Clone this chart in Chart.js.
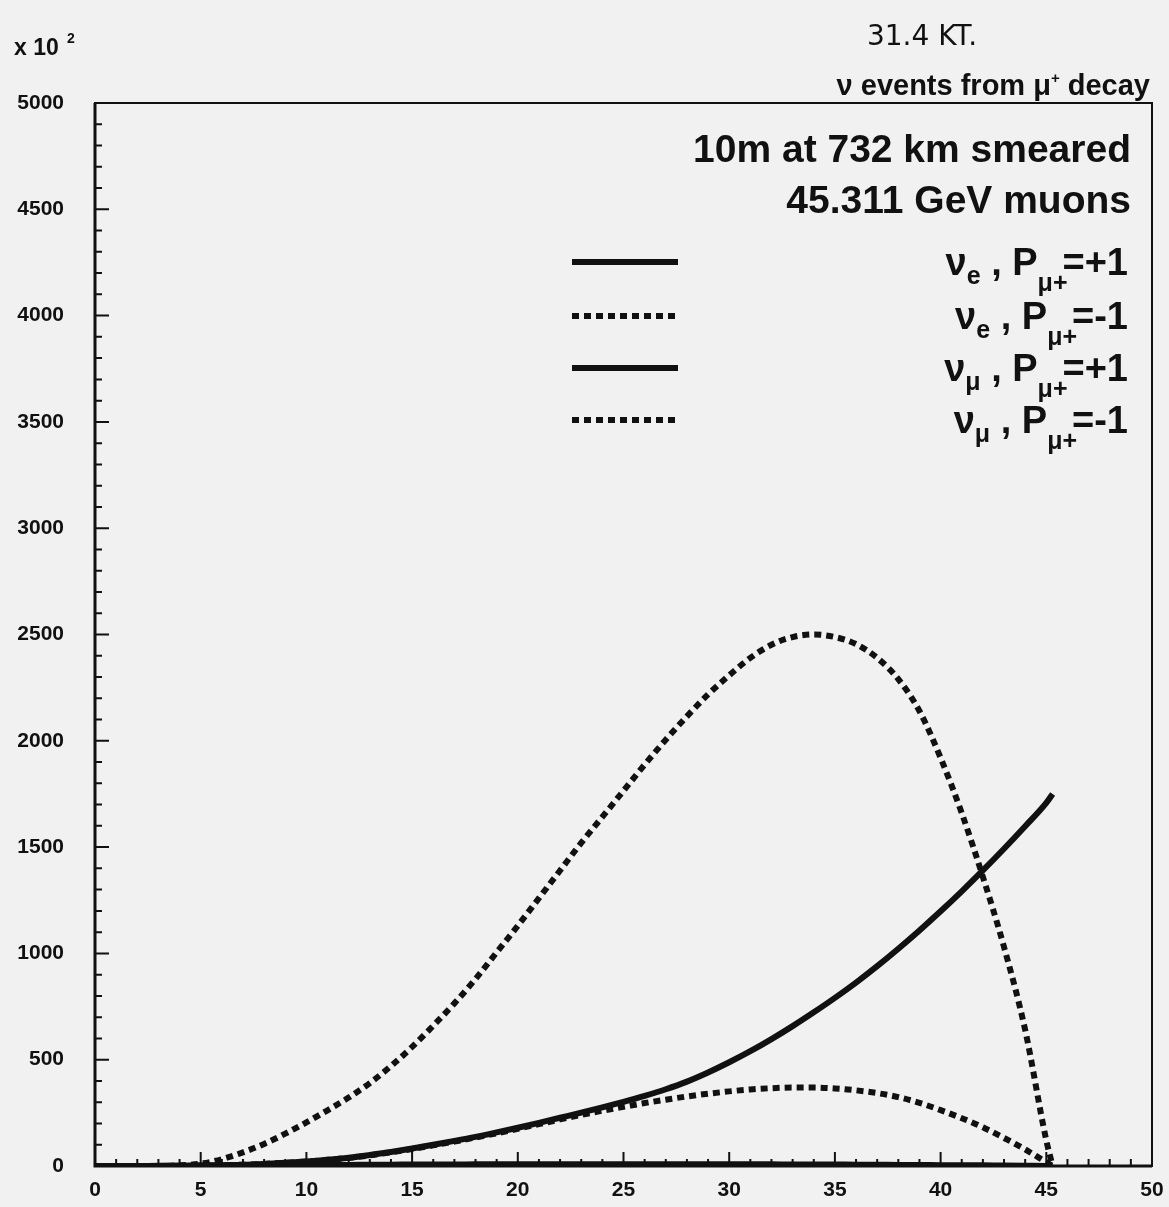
<!DOCTYPE html>
<html>
<head>
<meta charset="utf-8">
<script src="https://cdn.jsdelivr.net/npm/chart.js@4.4.0/dist/chart.umd.min.js"></script>
<style>
body { margin: 0; background: #f1f1f1; }
#wrap { width: 1169px; height: 1207px; }
</style>
</head>
<body>
<div id="wrap"><canvas id="mychart" width="1169" height="1207"></canvas></div>
<script>
// neutrino energy (GeV)
const energies = [0, 1, 2, 3, 4, 5, 6, 7, 8, 9, 10, 11, 12, 13, 14, 15, 16, 17, 18, 19,
    20, 21, 22, 23, 24, 25, 26, 27, 28, 29, 30, 31, 32, 33, 34, 35, 36, 37, 38, 39,
    40, 41, 42, 43, 44, 45, 45.3];

// events (x 10^2)
const nuePlus = [0, 0, 0, 1, 1, 2, 2, 3, 3, 4, 4, 5, 5, 6, 6, 7, 7, 7, 8, 8,
    8, 8, 8, 8, 8, 8, 8, 8, 8, 8, 8, 8, 8, 7, 7, 7, 6, 6, 5, 5,
    4, 4, 3, 2, 1, 0, 0];
const nueMinus = [0, 0, 0, 0, 3, 11, 32, 64, 104, 152, 205, 262, 322, 390, 470, 560, 660, 765, 880, 1005,
    1130, 1260, 1390, 1520, 1642, 1765, 1888, 2005, 2115, 2218, 2308, 2390, 2452, 2488, 2500, 2488, 2455, 2390, 2290, 2140,
    1920, 1660, 1360, 1030, 640, 120, 0];
const numuPlus = [0, 0, 0, 0, 1, 2, 4, 6, 10, 15, 21, 29, 39, 52, 66, 82, 100, 118, 137, 158,
    180, 203, 227, 251, 276, 302, 330, 361, 397, 440, 488, 540, 597, 658, 723, 791, 863, 940, 1022, 1108,
    1198, 1292, 1390, 1492, 1598, 1708, 1750];
const numuMinus = [0, 0, 0, 0, 1, 2, 4, 6, 10, 15, 21, 29, 38, 50, 64, 80, 97, 115, 134, 154,
    175, 197, 219, 240, 260, 278, 296, 312, 327, 340, 351, 360, 366, 369, 369, 365, 356, 343, 324, 297,
    263, 225, 182, 132, 78, 18, 0];

const xTicks = [0, 5, 10, 15, 20, 25, 30, 35, 40, 45, 50];
const yTicks = [0, 500, 1000, 1500, 2000, 2500, 3000, 3500, 4000, 4500, 5000];

const ink = '#111111';
const dash = [7, 5];

const ctx = document.getElementById('mychart');

function pts(arr) {
    return energies.map((e, i) => ({ x: e, y: arr[i] }));
}

// draws a row of text pieces (with sub/superscripts) ending at xRight
function richText(c, parts, xRight, base) {
    let w = 0;
    parts.forEach(p => {
        c.font = p.font;
        p.w = c.measureText(p.t).width;
        w += p.w + (p.kern || 0);
    });
    let x = xRight - w;
    parts.forEach(p => {
        c.font = p.font;
        c.fillText(p.t, x, base + (p.dy || 0));
        x += p.w + (p.kern || 0);
    });
}

const big = 'bold 38px "Liberation Sans"';
const sub = 'bold 25px "Liberation Sans"';

function legendRow(flav) {
    return [
        { t: 'ν', font: big },
        { t: flav.s, font: sub, dy: 9 },
        { t: ' , P', font: big },
        { t: 'μ+', font: sub, dy: 16, kern: -5 },
        { t: flav.v, font: big }
    ];
}

const legendRows = [
    { s: 'e', v: '=+1', y: 262, dashed: false },
    { s: 'e', v: '=-1', y: 316, dashed: true },
    { s: 'μ', v: '=+1', y: 368, dashed: false },
    { s: 'μ', v: '=-1', y: 420, dashed: true }
];

const paperPlugin = {
    id: 'paper',
    beforeDraw: (chart) => {
        const c = chart.ctx;
        c.save();
        c.fillStyle = '#f1f1f1';
        c.fillRect(0, 0, chart.width, chart.height);
        c.restore();
    },
    afterDraw: (chart) => {
        const c = chart.ctx;
        const a = chart.chartArea;
        const xs = chart.scales.x;
        const ys = chart.scales.y;
        c.save();
        c.strokeStyle = ink;
        c.fillStyle = ink;

        // frame
        c.lineWidth = 2;
        c.strokeRect(a.left, a.top, a.right - a.left, a.bottom - a.top);
        c.lineWidth = 3;
        c.beginPath();
        c.moveTo(a.left, a.top);
        c.lineTo(a.left, a.bottom);
        c.lineTo(a.right, a.bottom);
        c.stroke();

        // inward ticks
        c.lineWidth = 2;
        c.beginPath();
        for (let v = 0; v <= 50; v++) {
            const px = xs.getPixelForValue(v);
            const len = v % 5 === 0 ? 14 : 7;
            c.moveTo(px, a.bottom);
            c.lineTo(px, a.bottom - len);
        }
        for (let v = 0; v <= 5000; v += 100) {
            const py = ys.getPixelForValue(v);
            const len = v % 500 === 0 ? 14 : 7;
            c.moveTo(a.left, py);
            c.lineTo(a.left + len, py);
        }
        c.stroke();

        // header texts
        c.textBaseline = 'alphabetic';
        c.textAlign = 'left';
        c.font = 'bold 23px "Liberation Sans"';
        c.fillText('x 10', 14, 55);
        c.font = 'bold 14px "Liberation Sans"';
        c.fillText('2', 67, 43);

        c.font = '28px "DejaVu Sans"';
        c.textAlign = 'center';
        c.fillText('31.4 KT.', 922, 45);

        c.textAlign = 'left';
        richText(c, [
            { t: 'ν events from μ', font: 'bold 29px "Liberation Sans"' },
            { t: '+', font: 'bold 15px "Liberation Sans"', dy: -12 },
            { t: ' decay', font: 'bold 29px "Liberation Sans"' }
        ], 1150, 95);

        c.font = 'bold 39px "Liberation Sans"';
        c.textAlign = 'right';
        c.fillText('10m at 732 km smeared', 1131, 162);
        c.fillText('45.311 GeV muons', 1131, 213);

        // legend
        c.textAlign = 'left';
        legendRows.forEach((r, i) => {
            const ds = chart.data.datasets[i];
            c.save();
            c.lineWidth = ds.borderWidth;
            c.setLineDash(r.dashed ? dash : []);
            c.beginPath();
            c.moveTo(572, r.y);
            c.lineTo(678, r.y);
            c.stroke();
            c.restore();
            richText(c, legendRow(r), 1128, r.y + 13);
        });
        c.restore();
    }
};

const chart = new Chart(ctx, {
    type: 'line',
    data: {
        datasets: [{
            label: 'nu_e, P=+1',
            data: pts(nuePlus),
            borderColor: ink,
            borderWidth: 6
        }, {
            label: 'nu_e, P=-1',
            data: pts(nueMinus),
            borderColor: ink,
            borderWidth: 6,
            borderDash: dash
        }, {
            label: 'nu_mu, P=+1',
            data: pts(numuPlus),
            borderColor: ink,
            borderWidth: 6
        }, {
            label: 'nu_mu, P=-1',
            data: pts(numuMinus),
            borderColor: ink,
            borderWidth: 6,
            borderDash: dash
        }]
    },
    options: {
        responsive: false,
        animation: false,
        layout: {
            padding: { left: 0, right: 17, top: 103, bottom: 0 }
        },
        elements: {
            point: { radius: 0 },
            line: { cubicInterpolationMode: 'monotone', borderCapStyle: 'butt' }
        },
        scales: {
            x: {
                type: 'linear',
                min: 0,
                max: 50,
                afterBuildTicks: (s) => { s.ticks = xTicks.map(v => ({ value: v })); },
                afterFit: (s) => { s.height = 41; s.paddingLeft = 0; s.paddingRight = 0; },
                grid: { display: false, drawTicks: false },
                border: { display: false },
                ticks: {
                    color: ink,
                    padding: 12,
                    maxRotation: 0,
                    autoSkip: false,
                    callback: (v) => String(v),
                    font: { family: 'Liberation Sans', size: 21, weight: 'bold' }
                }
            },
            y: {
                type: 'linear',
                min: 0,
                max: 5000,
                afterBuildTicks: (s) => { s.ticks = yTicks.map(v => ({ value: v })); },
                afterFit: (s) => { s.width = 95; s.paddingTop = 0; s.paddingBottom = 0; },
                grid: { display: false, drawTicks: false },
                border: { display: false },
                ticks: {
                    color: ink,
                    padding: 31,
                    autoSkip: false,
                    callback: (v) => String(v),
                    font: { family: 'Liberation Sans', size: 21, weight: 'bold' }
                }
            }
        },
        plugins: {
            legend: { display: false },
            tooltip: { enabled: false }
        }
    },
    plugins: [paperPlugin]
});
</script>
</body>
</html>
